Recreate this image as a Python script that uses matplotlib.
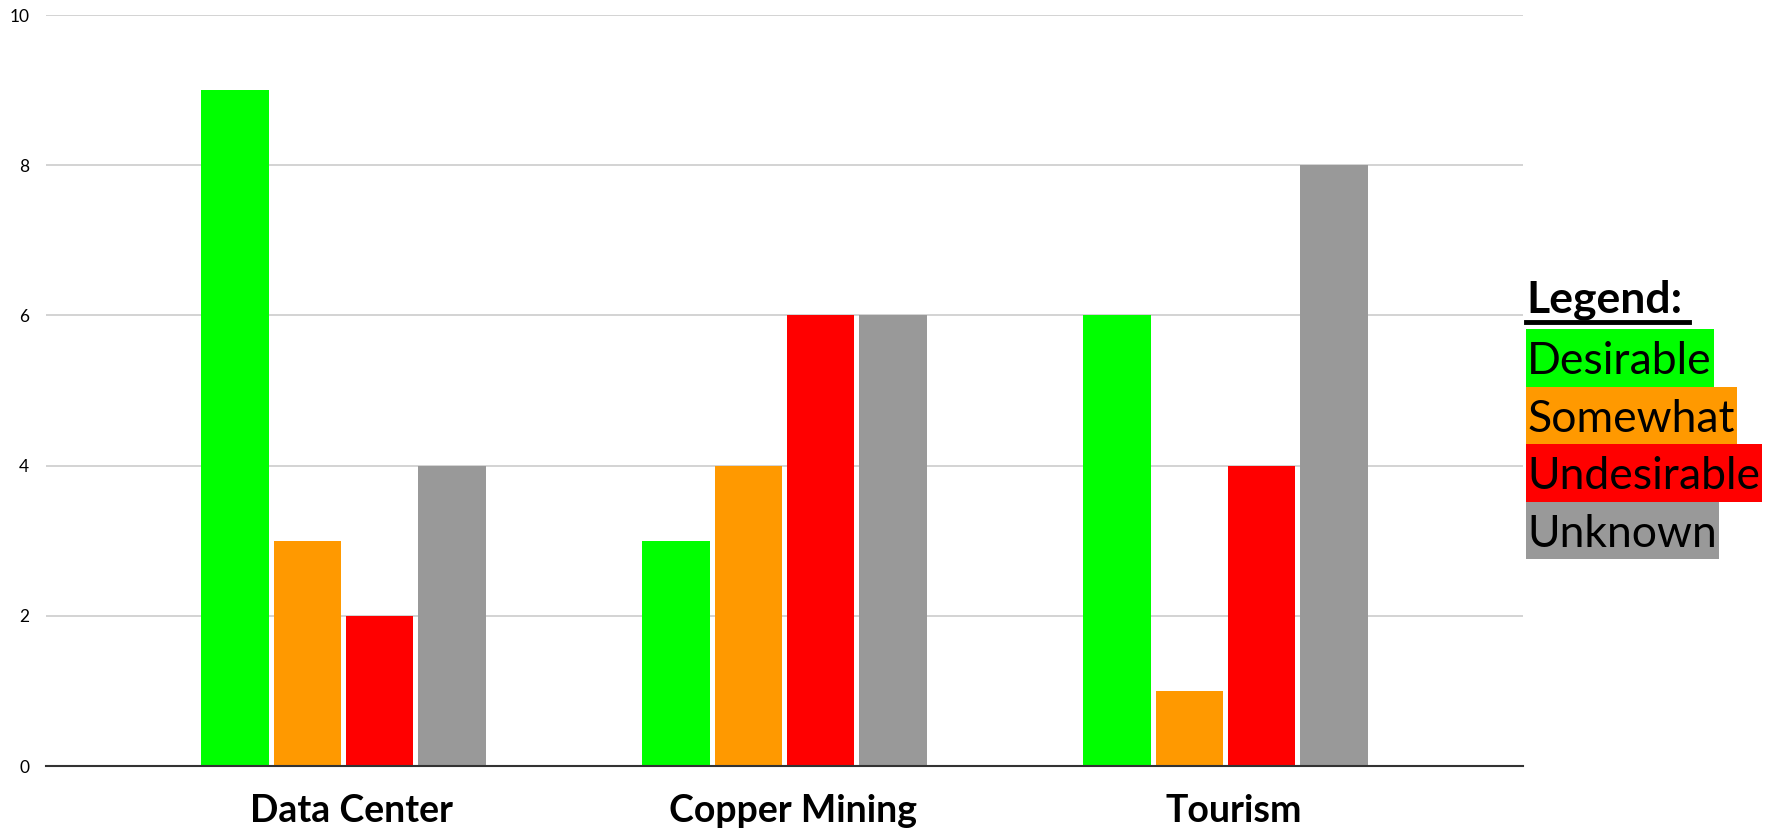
import matplotlib
matplotlib.use("Agg")
import matplotlib.pyplot as plt
import matplotlib.transforms as mtransforms
from matplotlib.patches import Rectangle
import numpy as np

categories = ["Data Center", "Copper Mining", "Tourism"]
series_names = ["Desirable", "Somewhat", "Undesirable", "Unknown"]
desirable = [9, 3, 6]
somewhat = [3, 4, 1]
undesirable = [2, 6, 4]
unknown = [4, 6, 8]
colors = ["#00ff00", "#ff9900", "#ff0000", "#999999"]
yticks = [0, 2, 4, 6, 8, 10]

W, H = 1767, 834
fig = plt.figure(figsize=(W / 100, H / 100), dpi=100)
ax = fig.add_axes([0.026, 0.0815, 0.836, 0.9005])

x = np.arange(len(categories))
width = 0.153
step = 0.164
series = [desirable, somewhat, undesirable, unknown]
for i, (vals, c) in enumerate(zip(series, colors)):
    ax.bar(x + (i - 1.5) * step, vals, width=width, color=c, zorder=3)

ax.set_xlim(-0.675, 2.675)
ax.set_ylim(0, 10)
ax.set_yticks(yticks)
ax.set_yticklabels([str(t) for t in yticks], fontsize=12.5, family="Lato")
ax.yaxis.grid(True, color="#cccccc", linewidth=1.2, zorder=0)
ax.set_xticks(x)
ax.set_xticklabels(categories, fontsize=27, fontweight="bold", family="Lato")
ax.tick_params(axis="x", length=0, pad=20)
ax.tick_params(axis="y", length=0, pad=12)
shift = mtransforms.ScaledTranslation(8 / 100, 0, fig.dpi_scale_trans)
for lab in ax.get_xticklabels():
    lab.set_transform(lab.get_transform() + shift)
for s in ["top", "right", "left"]:
    ax.spines[s].set_visible(False)
ax.spines["bottom"].set_color("#333333")
ax.spines["bottom"].set_linewidth(1.5)
ax.spines["bottom"].set_zorder(4)

# Legend block
lx = 1526
fig.text(lx / W, 1 - 313 / H, "Legend:", fontsize=32, fontweight="bold",
         family="Lato", va="baseline", ha="left")
fig.add_artist(plt.Line2D([lx / W, 1689 / W], [1 - 322 / H, 1 - 322 / H],
                          color="black", linewidth=3.5, transform=fig.transFigure))

renderer = fig.canvas.get_renderer()
box_top = 329
box_h = 57.5
for k, (name, c) in enumerate(zip(series_names, colors)):
    top = box_top + k * box_h
    t = fig.text((lx + 1) / W, 1 - (top + box_h / 2) / H, name, fontsize=32,
                 family="Lato", fontweight="normal", va="center_baseline",
                 ha="left", zorder=5)
    ext = t.get_window_extent(renderer)
    wpx = ext.width + 3
    fig.add_artist(Rectangle((lx / W, 1 - (top + box_h) / H), wpx / W, box_h / H,
                             transform=fig.transFigure, facecolor=c,
                             edgecolor="none", zorder=4))

fig.savefig("out.png", dpi=100)
